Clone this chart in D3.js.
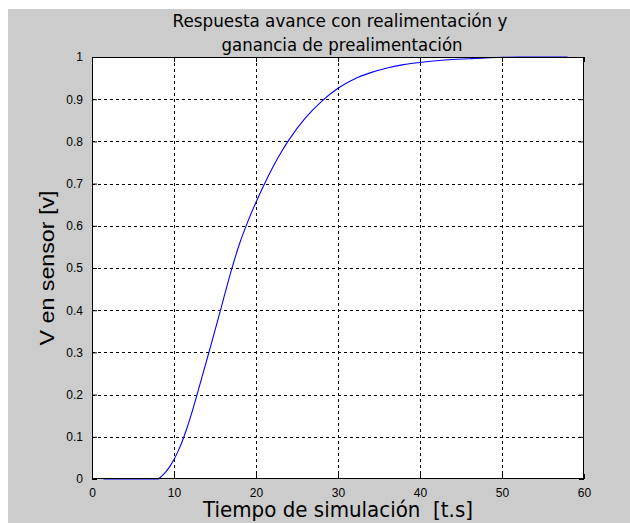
<!DOCTYPE html>
<html lang="es">
  <head>
    <meta charset="UTF-8" />
    <title>Respuesta avance</title>
    <style>
      body {
        margin: 0;
        background: #fff;
      }
      .tick text {
        font-family: 'Liberation Sans', Arial, sans-serif;
        font-size: 12px;
        fill: #000;
      }
      .comic {
        font-family: 'Comic Sans MS', 'DejaVu Sans', sans-serif;
      }
    </style>
  </head>
  <body>
    <svg width="630" height="523"></svg>
    <script src="https://cdn.jsdelivr.net/npm/d3@7/dist/d3.min.js"></script>
    <script>
      // tiempo de simulacion [t.s]
      const tiempo = [
        1.4, 8, 8.5, 9, 9.5, 10, 10.5, 11, 11.5, 12, 13, 14, 15, 16, 17, 18, 19,
        20, 21, 22, 23, 24, 26, 28, 30, 32, 34, 36, 38, 40, 42, 44, 46, 48, 50,
        52, 55, 58,
      ];
      // V en sensor [v]
      const tension = [
        0, 0, 0.007, 0.017, 0.03, 0.046, 0.066, 0.089, 0.116, 0.146, 0.213,
        0.282, 0.352, 0.424, 0.495, 0.558, 0.61, 0.656, 0.698, 0.737, 0.772,
        0.803, 0.855, 0.895, 0.926, 0.948, 0.963, 0.974, 0.982, 0.987, 0.991,
        0.994, 0.996, 0.998, 0.999, 1, 1, 1,
      ];
      const xTicks = [0, 10, 20, 30, 40, 50, 60];
      const yTicks = [0, 0.1, 0.2, 0.3, 0.4, 0.5, 0.6, 0.7, 0.8, 0.9, 1];

      const margin = { left: 92, top: 57, right: 46, bottom: 44 };
      const width = 630 - margin.left - margin.right,
        height = 523 - margin.top - margin.bottom;

      const svg = d3.select('svg');

      // fondo gris de la figura
      svg
        .append('rect')
        .attr('x', 8)
        .attr('y', 9)
        .attr('width', 622)
        .attr('height', 514)
        .attr('fill', '#cccccc');

      const x = d3.scaleLinear().domain([0, 60]).range([0, width]);
      const y = d3.scaleLinear().domain([0, 1]).range([height, 0]);

      const chart = svg
        .append('g')
        .attr('transform', 'translate(' + margin.left + ',' + margin.top + ')');

      chart
        .append('rect')
        .attr('width', width)
        .attr('height', height)
        .attr('fill', '#fff');

      // rejilla
      chart
        .append('g')
        .selectAll('line')
        .data(xTicks.slice(1, -1))
        .enter()
        .append('line')
        .attr('x1', (d) => Math.round(x(d)) + 0.5)
        .attr('x2', (d) => Math.round(x(d)) + 0.5)
        .attr('y1', 0)
        .attr('y2', height)
        .attr('stroke', '#000')
        .attr('stroke-dasharray', '3,3');

      chart
        .append('g')
        .selectAll('line')
        .data(yTicks.slice(1, -1))
        .enter()
        .append('line')
        .attr('y1', (d) => Math.round(y(d)) + 0.5)
        .attr('y2', (d) => Math.round(y(d)) + 0.5)
        .attr('x1', 0)
        .attr('x2', width)
        .attr('stroke', '#000')
        .attr('stroke-dasharray', '3,3');

      const xAxis = chart
        .append('g')
        .attr('transform', 'translate(0,' + height + ')')
        .call(
          d3
            .axisBottom(x)
            .tickValues(xTicks)
            .tickFormat(d3.format('d'))
            .tickSizeInner(-5)
            .tickSizeOuter(0)
            .tickPadding(9)
        );
      xAxis.select('.domain').remove();

      const yAxis = chart.append('g').call(
        d3
          .axisLeft(y)
          .tickValues(yTicks)
          .tickFormat((d) => (d === 0 || d === 1 ? d : d3.format('.1f')(d)))
          .tickSizeInner(-5)
          .tickSizeOuter(0)
          .tickPadding(9)
      );
      yAxis.select('.domain').remove();

      // marcas superiores y derechas
      chart
        .append('g')
        .call(d3.axisTop(x).tickValues(xTicks).tickSizeInner(-5).tickSizeOuter(0).tickFormat(''))
        .select('.domain')
        .remove();
      chart
        .append('g')
        .attr('transform', 'translate(' + width + ',0)')
        .call(d3.axisRight(y).tickValues(yTicks).tickSizeInner(-5).tickSizeOuter(0).tickFormat(''))
        .select('.domain')
        .remove();

      const line = d3
        .line()
        .x((d, i) => x(tiempo[i]))
        .y((d) => y(d))
        .curve(d3.curveMonotoneX);

      chart
        .append('path')
        .datum(tension)
        .attr('d', line)
        .attr('fill', 'none')
        .attr('stroke', '#0000ff')
        .attr('stroke-width', 1.1);

      // marco
      chart
        .append('rect')
        .attr('x', 0.5)
        .attr('y', 0.5)
        .attr('width', width - 1)
        .attr('height', height - 1)
        .attr('fill', 'none')
        .attr('stroke', '#000');

      // titulo
      svg
        .append('text')
        .attr('class', 'comic')
        .attr('x', 340)
        .attr('y', 27)
        .attr('text-anchor', 'middle')
        .attr('font-size', 17)
        .attr('textLength', 335)
        .attr('lengthAdjust', 'spacingAndGlyphs')
        .text('Respuesta avance con realimentación y');
      svg
        .append('text')
        .attr('class', 'comic')
        .attr('x', 342)
        .attr('y', 51)
        .attr('text-anchor', 'middle')
        .attr('font-size', 17)
        .attr('textLength', 241)
        .attr('lengthAdjust', 'spacingAndGlyphs')
        .text('ganancia de prealimentación');

      svg
        .append('text')
        .attr('class', 'comic')
        .attr('x', 338)
        .attr('y', 517)
        .attr('text-anchor', 'middle')
        .attr('font-size', 21)
        .attr('textLength', 270)
        .attr('lengthAdjust', 'spacingAndGlyphs')
        .style('white-space', 'pre')
        .text('Tiempo de simulación  [t.s]');

      svg
        .append('text')
        .attr('transform', 'translate(54,268) rotate(-90)')
        .attr('text-anchor', 'middle')
        .attr('font-family', "'Liberation Sans', Arial, sans-serif")
        .attr('font-size', 21)
        .attr('textLength', 155)
        .attr('lengthAdjust', 'spacingAndGlyphs')
        .text('V en sensor [v]');
    </script>
  </body>
</html>
